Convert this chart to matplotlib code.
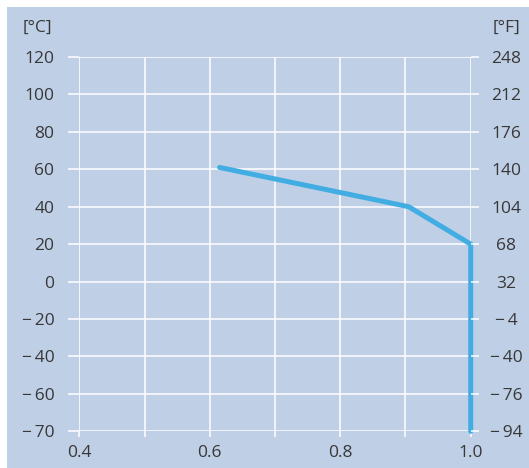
import numpy as np
import matplotlib
matplotlib.use('Agg')
import matplotlib.pyplot as plt
from matplotlib.patches import Rectangle

# curve data (x ratio, temperature in degC)
x_vals = [0.615, 0.905, 1.0, 1.0]
t_vals = [61, 40, 20, -70]

c_ticks = [120, 100, 80, 60, 40, 20, 0, -20, -40, -60, -70]
f_ticks = [248, 212, 176, 140, 104, 68, 32, -4, -40, -76, -94]
x_ticks = [0.4, 0.5, 0.6, 0.7, 0.8, 0.9, 1.0]
x_labels = ['0.4', '', '0.6', '', '0.8', '', '1.0']

bg = '#bfcfe6'
txt = '#383838'
plt.rcParams['font.family'] = ['Open Sans', 'DejaVu Sans']


def lab(v):
    # minus sign with a small gap, like the original
    return '\u2212\u2009' + str(-v) if v < 0 else str(v)


# axis is stretched below -60 (the -70 step gets a full grid cell)
def fwd(y):
    y = np.asarray(y, dtype=float)
    return np.where(y >= -60, y, -60 + 2 * (y + 60))


def inv(v):
    v = np.asarray(v, dtype=float)
    return np.where(v >= -60, v, -60 + (v + 60) / 2)


fig = plt.figure(figsize=(5.29, 4.68), dpi=100, facecolor='white')
fig.patches.append(Rectangle((7 / 529, 0), 1, 1 - 7 / 468, transform=fig.transFigure,
                             facecolor=bg, edgecolor='none', zorder=-10))
ax = fig.add_axes([0.1499, 0.0784, 0.7399, 0.7998])
ax.set_facecolor(bg)
ax.set_yscale('function', functions=(fwd, inv))
ax.set_xlim(0.4, 1.0)
ax.set_ylim(-70, 120)

ax.set_xticks(x_ticks)
ax.set_xticklabels(x_labels)
ax.set_yticks(c_ticks)
ax.set_yticklabels([lab(v) for v in c_ticks])
ax.grid(True, color='white', linewidth=1.1)
ax.set_axisbelow(True)
for s in ax.spines.values():
    s.set_visible(False)
ax.tick_params(axis='y', colors='white', length=8, width=1.1, pad=10, labelcolor=txt, labelsize=12.5)
ax.tick_params(axis='x', colors='white', length=4, width=1.1, pad=6, labelcolor=txt, labelsize=12.5)

ax2 = ax.twinx()
ax2.set_yscale('function', functions=(fwd, inv))
ax2.set_ylim(-70, 120)
ax2.set_yticks(c_ticks)
ax2.set_yticklabels([lab(v) for v in f_ticks], ha='center')
for s in ax2.spines.values():
    s.set_visible(False)
ax2.tick_params(axis='y', colors='white', length=6, width=1.1, pad=19.5, labelcolor=txt, labelsize=12.5)

ax.plot(x_vals, t_vals, color='#41ade2', linewidth=3.6, solid_capstyle='round',
        solid_joinstyle='miter', clip_on=False, zorder=5)

fig.text(52 / 529, 1 - 28 / 468, '[°C]', ha='right', va='center', color=txt, fontsize=12.5)
fig.text(506 / 529, 1 - 28 / 468, '[°F]', ha='center', va='center', color=txt, fontsize=12.5)

fig.savefig('out.png', dpi=100, facecolor='white')
